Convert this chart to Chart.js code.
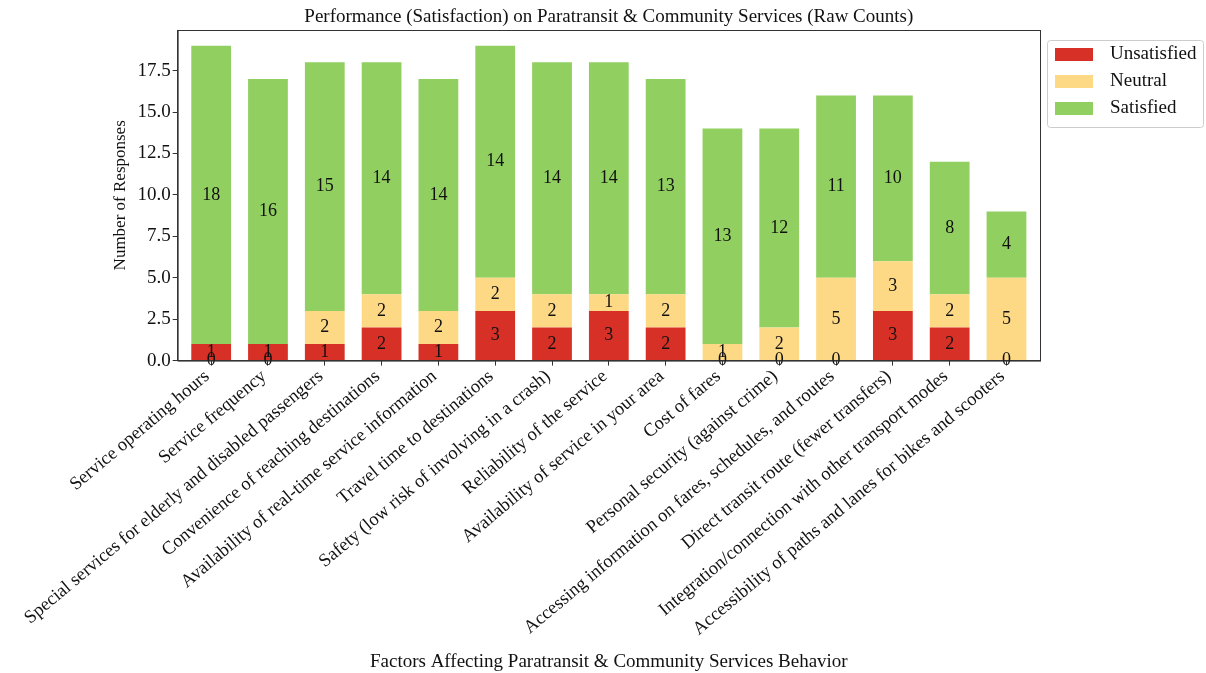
<!DOCTYPE html>
<html>
<head>
<meta charset="utf-8">
<script src="https://cdn.jsdelivr.net/npm/chart.js@4"></script>
<style>
  html, body { margin: 0; padding: 0; background: #fff; }
  #wrap { width: 1206px; height: 673px; }
</style>
</head>
<body>
<div id="wrap"><canvas id="bars" width="1206" height="673"></canvas></div>
<script>
const categories = [
  "Service operating hours",
  "Service frequency",
  "Special services for elderly and disabled passengers",
  "Convenience of reaching destinations",
  "Availability of real-time service information",
  "Travel time to destinations",
  "Safety (low risk of involving in a crash)",
  "Reliability of the service",
  "Availability of service in your area",
  "Cost of fares",
  "Personal security (against crime)",
  "Accessing information on fares, schedules, and routes",
  "Direct transit route (fewer transfers)",
  "Integration/connection with other transport modes",
  "Accessibility of paths and lanes for bikes and scooters"
];
const unsatisfied = [1, 1, 1, 2, 1, 3, 2, 3, 2, 0, 0, 0, 3, 2, 0];
const neutral     = [0, 0, 2, 2, 2, 2, 2, 1, 2, 1, 2, 5, 3, 2, 5];
const satisfied   = [18, 16, 15, 14, 14, 14, 14, 14, 13, 13, 12, 11, 10, 8, 4];
const seriesNames = ["Unsatisfied", "Neutral", "Satisfied"];
const seriesColors = ["#d73027", "#fdd985", "#91cf60"];
const yMax = 19.95;
const yStep = 2.5;

const serif = "'Liberation Serif', 'Times New Roman', serif";
Chart.defaults.font.family = serif;
Chart.defaults.color = "#111";

// x is a numeric position so the bar margins match the original
const points = arr => arr.map((v, i) => ({ x: i, y: v }));

// labels in the middle of each segment, title, legend box and frame
const extras = {
  id: "extras",
  afterDatasetsDraw(chart) {
    const ctx = chart.ctx;
    const y0 = chart.scales.y.getPixelForValue(0);
    ctx.save();
    ctx.font = "18px " + serif;
    ctx.fillStyle = "#111";
    ctx.textAlign = "center";
    ctx.textBaseline = "middle";
    chart.data.datasets.forEach((ds, i) => {
      chart.getDatasetMeta(i).data.forEach((bar, j) => {
        const v = ds.data[j].y;
        const y = v === 0 ? y0 : (bar.y + bar.base) / 2;
        ctx.fillText(String(v), bar.x, y);
      });
    });
    ctx.restore();
  },
  afterDraw(chart) {
    const ctx = chart.ctx;
    const a = chart.chartArea;
    ctx.save();
    // frame
    ctx.strokeStyle = "#333";
    ctx.lineWidth = 1;
    ctx.strokeRect(a.left + 0.5, a.top + 0.5, a.right - a.left, a.bottom - a.top);
    // title
    ctx.fillStyle = "#111";
    ctx.font = "19px " + serif;
    ctx.textAlign = "center";
    ctx.textBaseline = "middle";
    ctx.fillText("Performance (Satisfaction) on Paratransit & Community Services (Raw Counts)", (a.left + a.right) / 2, 17);
    // legend
    const lx = a.right + 7, ly = 40, lw = 156, lh = 87;
    ctx.strokeStyle = "#ccc";
    ctx.beginPath();
    ctx.roundRect(lx + 0.5, ly + 0.5, lw, lh, 3);
    ctx.stroke();
    ctx.font = "19px " + serif;
    ctx.textAlign = "left";
    chart.data.datasets.forEach((ds, i) => {
      const cy = ly + 14 + i * 27;
      ctx.fillStyle = ds.backgroundColor;
      ctx.fillRect(lx + 8, cy - 6, 38, 13);
      ctx.fillStyle = "#111";
      ctx.fillText(ds.label, lx + 63, cy);
    });
    ctx.restore();
  }
};

new Chart(document.getElementById("bars"), {
  type: "bar",
  data: {
    datasets: [
      { label: seriesNames[0], data: points(unsatisfied), backgroundColor: seriesColors[0] },
      { label: seriesNames[1], data: points(neutral), backgroundColor: seriesColors[1] },
      { label: seriesNames[2], data: points(satisfied), backgroundColor: seriesColors[2] }
    ]
  },
  options: {
    responsive: false,
    animation: false,
    layout: { padding: { top: 30, left: 104, right: 166, bottom: 0 } },
    datasets: { bar: { categoryPercentage: 1, barPercentage: 0.7 } },
    plugins: {
      legend: { display: false },
      title: { display: false },
      tooltip: { enabled: false }
    },
    scales: {
      x: {
        type: "linear",
        stacked: true,
        min: -0.59,
        max: categories.length - 1 + 0.59,
        offset: false,
        afterBuildTicks: scale => { scale.ticks = categories.map((c, i) => ({ value: i })); },
        border: { color: "#333" },
        grid: { display: true, drawOnChartArea: false, offset: false, tickLength: 5, color: "#333" },
        ticks: { autoSkip: false, maxRotation: 40, minRotation: 40,
                 font: { size: 18.5 }, color: "#111", padding: 0, labelOffset: -4,
                 callback: v => categories[v] ?? "" },
        title: { display: true, text: "Factors Affecting Paratransit & Community Services Behavior", font: { size: 19 }, color: "#111", padding: { top: 10, bottom: 0 } }
      },
      y: {
        stacked: true,
        min: 0,
        max: yMax,
        border: { color: "#333" },
        grid: { display: true, drawOnChartArea: false, tickLength: 5, color: "#333" },
        ticks: { stepSize: yStep, includeBounds: false, font: { size: 19 }, color: "#111", padding: 2,
                 callback: v => Number(v).toFixed(1) },
        title: { display: true, text: "Number of Responses", font: { size: 17 }, color: "#111", padding: { top: 6, bottom: 5 } }
      }
    }
  },
  plugins: [extras]
});
</script>
</body>
</html>
